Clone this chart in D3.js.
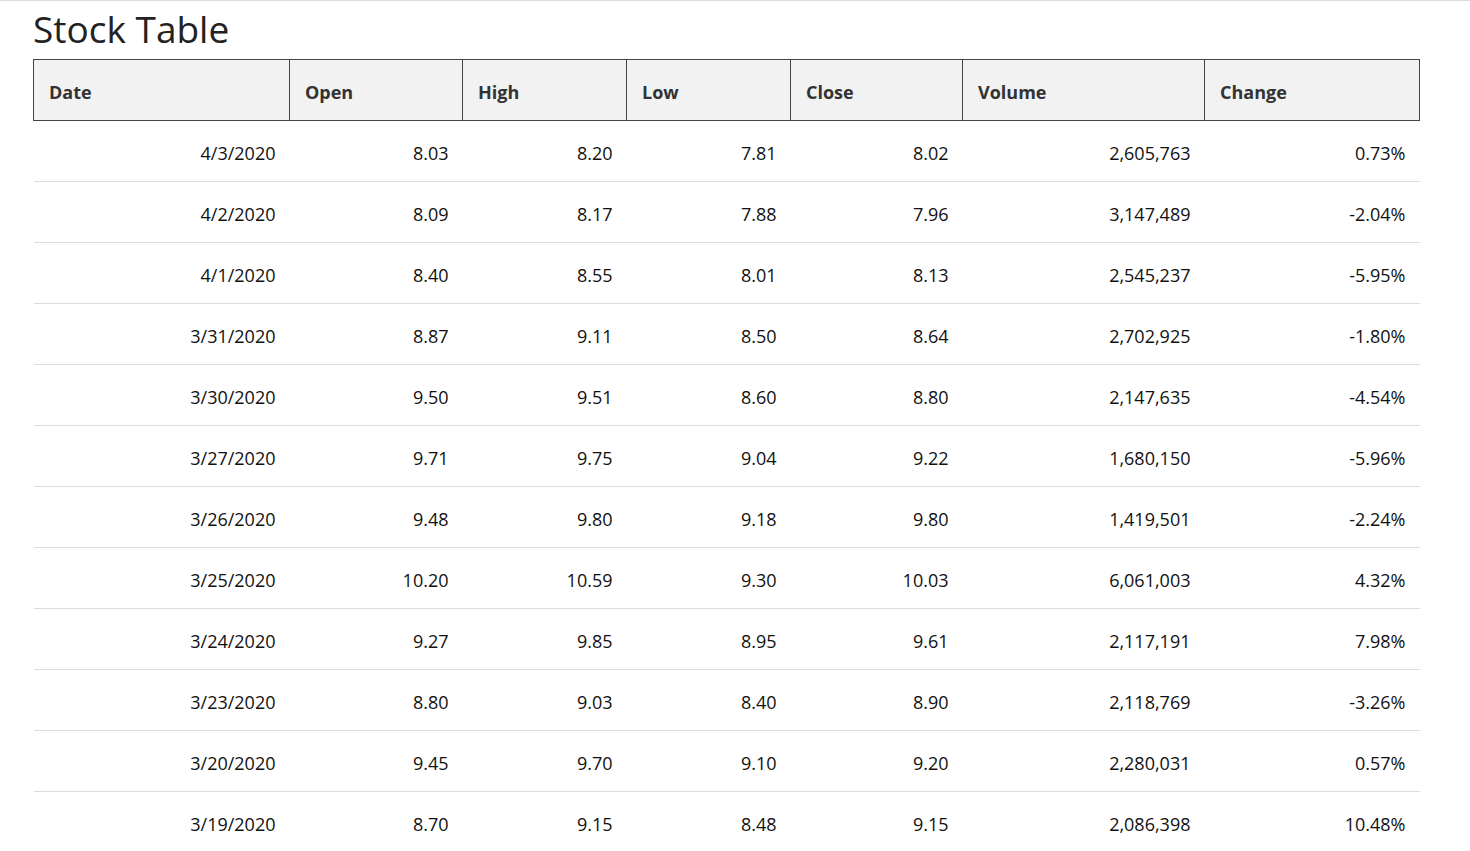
<!DOCTYPE html>
<html><head><meta charset="utf-8">
<script src="https://cdn.jsdelivr.net/npm/d3@7"></script>
<style>
body{margin:0;font-family:"Open Sans","Noto Sans",sans-serif;color:#111;border-top:1px solid #ddd;}
h1{font-weight:400;font-size:37px;margin:0;position:absolute;left:33px;top:3px;color:#222;}
table{position:absolute;left:33px;top:59px;border-collapse:collapse;table-layout:fixed;width:1386px;font-size:18px;}
th{background:#f2f2f2;border:1px solid #444;height:56px;text-align:left;padding:4px 0 0 15px;font-weight:700;color:#333;}
td{height:56px;border-bottom:1px solid #ddd;text-align:right;padding:4px 14px 0 0;}
</style></head><body>
<h1>Stock Table</h1>
<table id="t"></table>
<script>
var columns = ['Date','Open','High','Low','Close','Volume','Change'];
var widths = [256,173,164,164,172,242,215];
var dates = ['4/3/2020','4/2/2020','4/1/2020','3/31/2020','3/30/2020','3/27/2020','3/26/2020','3/25/2020','3/24/2020','3/23/2020','3/20/2020','3/19/2020'];
var open = [8.03,8.09,8.40,8.87,9.50,9.71,9.48,10.20,9.27,8.80,9.45,8.70];
var high = [8.20,8.17,8.55,9.11,9.51,9.75,9.80,10.59,9.85,9.03,9.70,9.15];
var low = [7.81,7.88,8.01,8.50,8.60,9.04,9.18,9.30,8.95,8.40,9.10,8.48];
var close = [8.02,7.96,8.13,8.64,8.80,9.22,9.80,10.03,9.61,8.90,9.20,9.15];
var volume = [2605763,3147489,2545237,2702925,2147635,1680150,1419501,6061003,2117191,2118769,2280031,2086398];
var change = [0.73,-2.04,-5.95,-1.80,-4.54,-5.96,-2.24,4.32,7.98,-3.26,0.57,10.48];

var f2 = d3.formatLocale({decimal: '.', thousands: ',', grouping: [3], currency: ['$', ''], minus: '-'}).format('.2f'),
    fv = d3.format(',');
var rows = dates.map(function(d, i) {
  return [d, f2(open[i]), f2(high[i]), f2(low[i]), f2(close[i]), fv(volume[i]), f2(change[i]) + '%'];
});
var table = d3.select('#t');
table.append('colgroup').selectAll('col').data(widths).enter().append('col')
  .style('width', function(d) { return d + 'px'; });
table.append('thead').append('tr').selectAll('th').data(columns).enter().append('th').text(function(d) { return d; });
table.append('tbody').selectAll('tr').data(rows).enter().append('tr')
  .selectAll('td').data(function(d) { return d; }).enter().append('td').text(function(d) { return d; });
</script>
</body></html>
